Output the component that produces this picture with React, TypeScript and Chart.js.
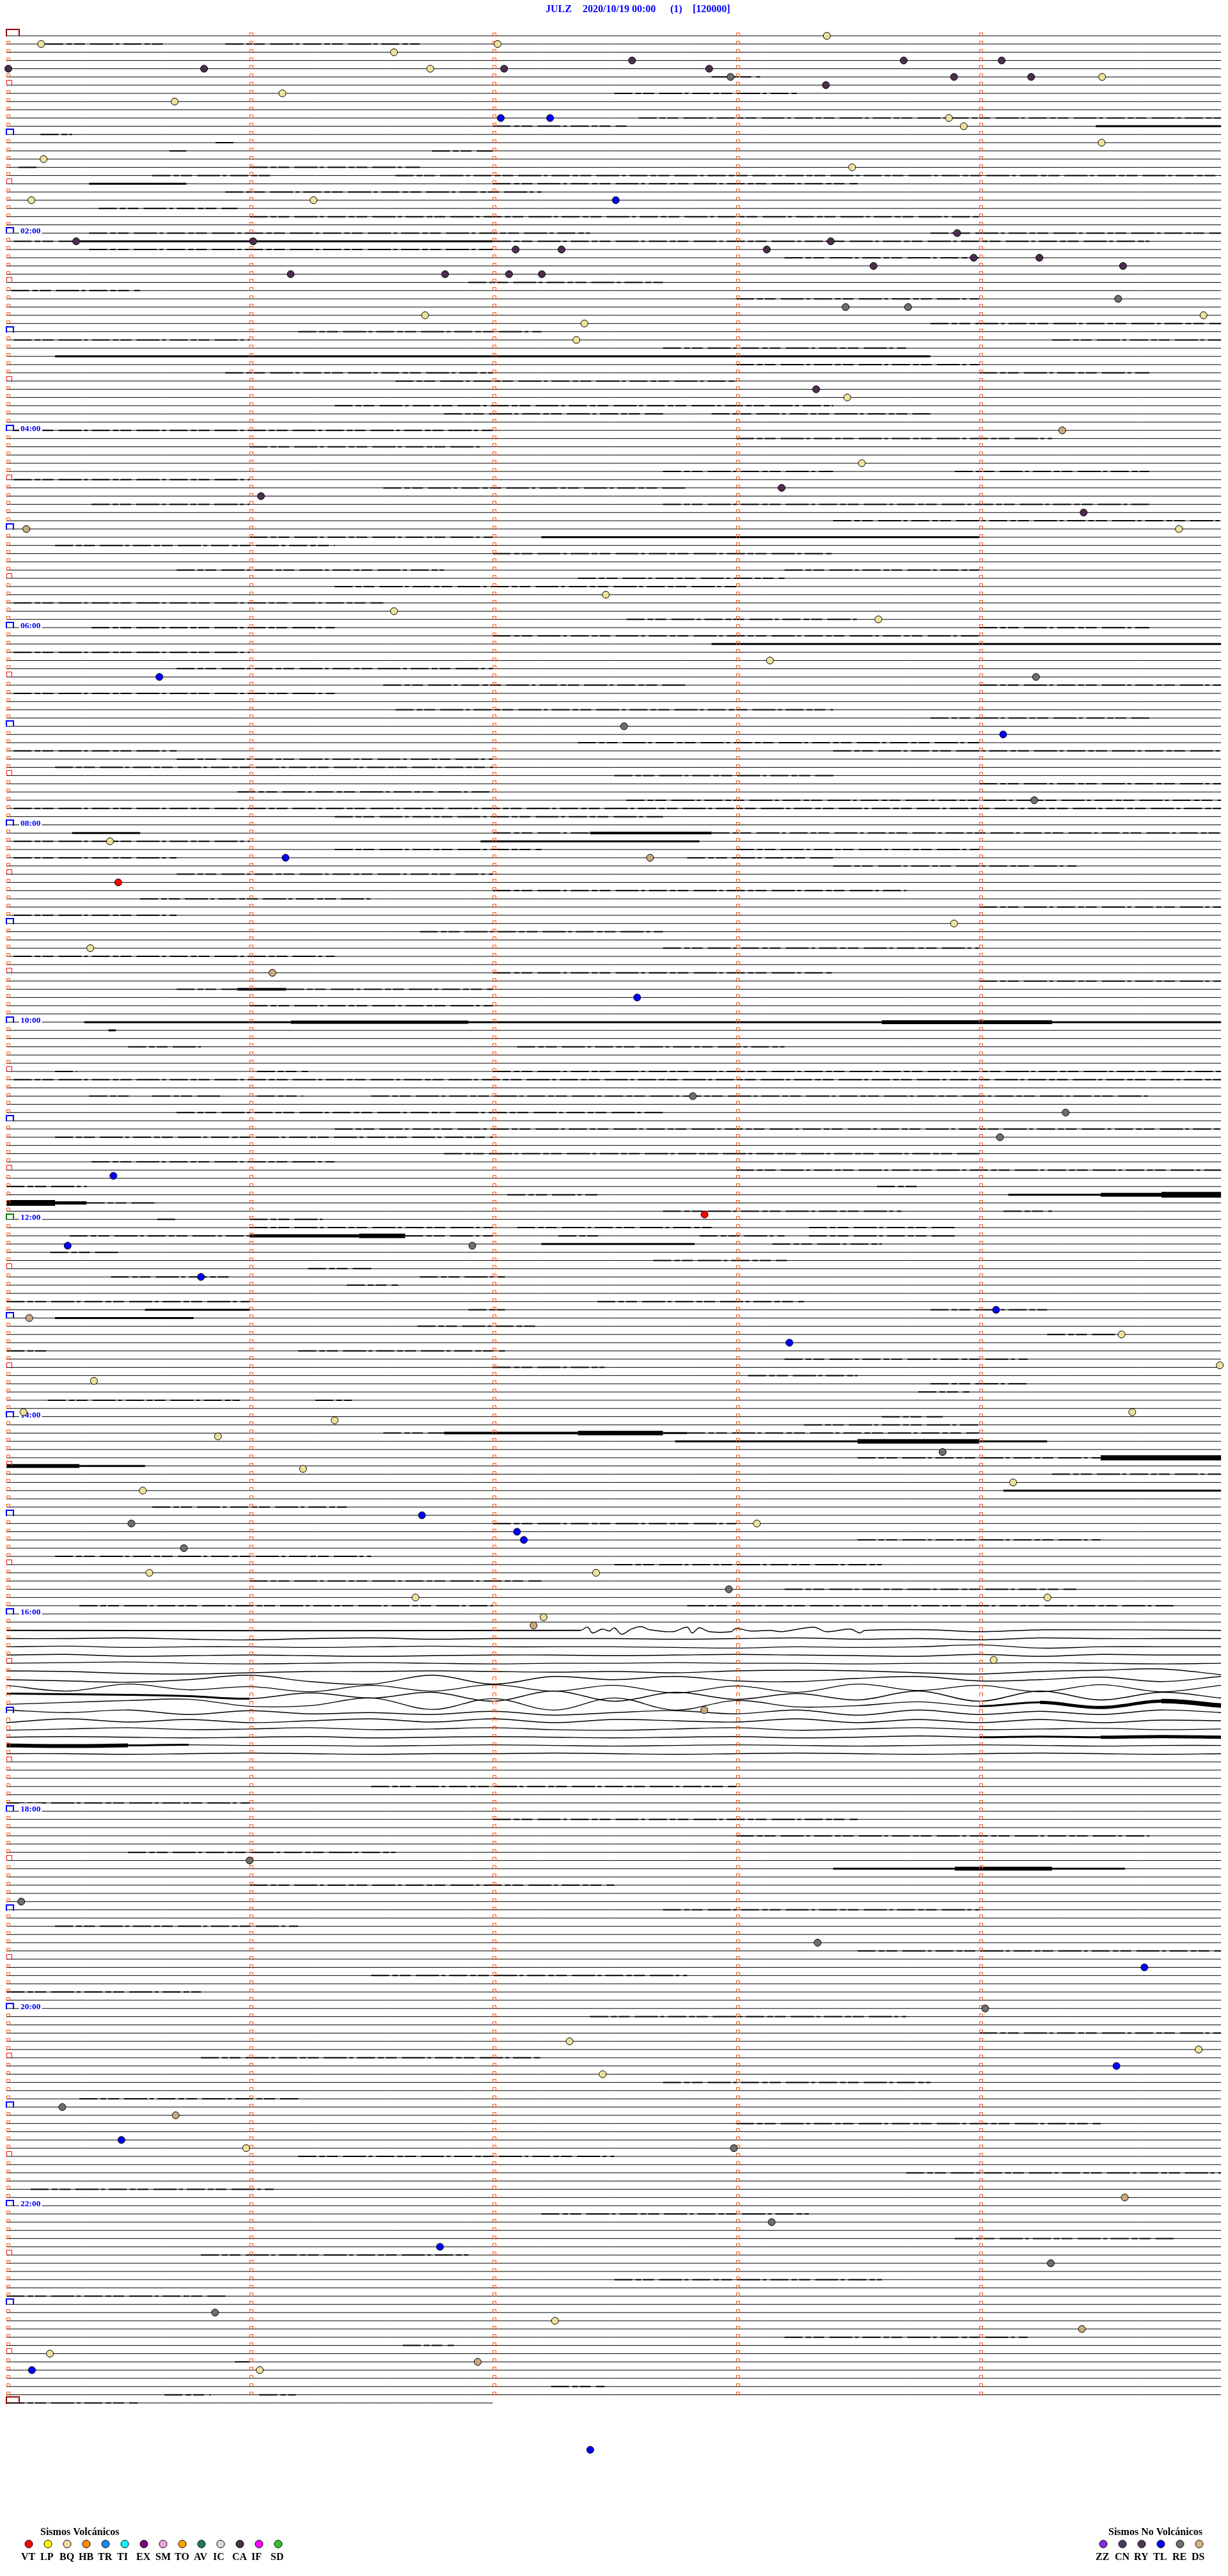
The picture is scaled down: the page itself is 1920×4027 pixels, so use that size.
import React, { useEffect, useRef } from "react";
import { Chart, registerables } from "chart.js";
Chart.register(...registerables);

// ---------- data ----------
const TITLE_PARTS: [string, number][] = [
  ["JULZ", 853],
  ["2020/10/19 00:00", 911],
  ["(1)", 1048],
  ["[120000]", 1083],
];
const ROW_COUNT = 289; // 5-minute rows, 00:00 .. 24:00
const FULL_ROW_END = 4.995;
const LAST_ROW_END = 2.0;
const MINUTE_TICKS = [1, 2, 3, 4];
const HOUR_LABELS = ["02:00", "04:00", "06:00", "08:00", "10:00", "12:00", "14:00", "16:00", "18:00", "20:00", "22:00"];

// noise bands: [row, fromMinute, toMinute, thicknessPx]
const NOISE: [number, number, number, number][] = [
  [1, 0.16, 0.65, 2], [1, 0.9, 1.7, 2], [5, 2.9, 3.1, 2], [7, 2.5, 3.25, 2], [10, 2.6, 5, 2],
  [11, 2.0, 2.55, 2], [11, 4.48, 5, 3], [12, 0.14, 0.27, 2], [13, 0.86, 0.94, 2], [14, 0.67, 0.74, 2],
  [14, 1.75, 2.0, 2], [16, 0.05, 0.13, 2], [16, 1.0, 1.7, 2], [17, 0.6, 1.1, 2], [17, 1.6, 5, 2],
  [18, 0.34, 0.74, 3], [18, 2.0, 3.5, 2], [19, 0.9, 2.2, 2], [21, 0.38, 0.95, 2], [22, 1.0, 4.0, 2],
  [24, 0.34, 2.4, 2], [24, 3.8, 5, 2], [25, 0.03, 0.28, 2], [25, 0.3, 2.0, 3], [25, 2.0, 4.7, 2],
  [26, 0.34, 2.0, 2], [27, 3.2, 4.0, 2], [30, 1.9, 2.7, 2], [31, 0.02, 0.55, 2], [32, 3.0, 4.0, 2],
  [35, 3.8, 5, 2], [36, 1.2, 2.2, 2], [37, 0.03, 1.0, 2], [37, 4.3, 5, 2], [38, 2.7, 3.7, 2],
  [39, 0.2, 3.8, 3], [40, 3.0, 4.0, 2], [41, 0.9, 2.0, 2], [41, 4.0, 4.7, 2], [42, 1.6, 3.0, 2],
  [45, 1.35, 3.4, 2], [46, 1.8, 2.7, 2], [46, 2.9, 3.8, 2], [48, 0.03, 2.0, 2], [49, 3.0, 4.3, 2],
  [50, 1.0, 1.95, 2], [53, 2.7, 3.4, 2], [53, 3.9, 4.7, 2], [54, 0.03, 1.0, 2], [55, 1.55, 2.8, 2],
  [57, 0.35, 1.0, 2], [57, 2.7, 4.7, 2], [59, 3.4, 5, 2], [61, 1.0, 2.0, 2], [61, 2.2, 4.0, 3],
  [62, 0.2, 1.35, 2], [63, 2.0, 3.4, 2], [65, 0.7, 1.8, 2], [65, 3.2, 4.0, 2], [66, 2.35, 3.2, 2],
  [67, 1.35, 3.0, 2], [69, 0.03, 1.55, 2], [71, 2.55, 3.5, 2], [72, 0.35, 1.35, 2], [72, 4.0, 4.7, 2],
  [73, 2.0, 4.0, 2], [74, 2.9, 5, 3], [75, 0.03, 1.0, 2], [77, 0.7, 2.0, 2], [79, 1.55, 2.8, 2],
  [79, 4.0, 5, 2], [80, 0.03, 1.35, 2], [82, 1.6, 3.4, 2], [83, 3.8, 4.7, 2], [86, 2.35, 4.0, 2],
  [87, 0.03, 0.7, 2], [87, 3.4, 5, 2], [88, 0.7, 2.0, 2], [89, 0.2, 2.0, 2], [90, 2.5, 3.4, 2],
  [91, 4.0, 5, 2], [92, 0.95, 2.0, 2], [93, 2.55, 5, 2], [94, 0.03, 5, 2], [95, 1.35, 2.7, 2],
  [97, 0.27, 0.55, 3], [97, 2.0, 2.4, 2], [97, 2.4, 2.9, 4], [97, 2.9, 5, 2], [98, 0.03, 1.0, 2],
  [98, 1.95, 2.85, 3], [99, 1.35, 2.2, 2], [99, 3.0, 4.0, 2], [100, 0.03, 0.7, 2], [100, 2.8, 3.4, 2],
  [101, 3.4, 4.4, 2], [102, 0.7, 2.0, 2], [104, 2.0, 3.7, 2], [105, 0.55, 1.5, 2], [106, 4.0, 5, 2],
  [107, 0.03, 0.7, 2], [109, 1.7, 2.7, 2], [111, 2.7, 4.0, 2], [112, 0.03, 1.35, 2], [114, 2.0, 3.4, 2],
  [115, 4.0, 5, 2], [116, 0.7, 0.95, 2], [116, 0.95, 1.15, 4], [116, 1.15, 2.0, 2], [118, 1.0, 2.0, 2],
  [120, 0.32, 1.17, 3], [120, 1.17, 1.9, 5], [120, 1.9, 3.6, 3], [120, 3.6, 4.3, 6], [120, 4.3, 5, 3],
  [121, 0.42, 0.45, 3], [123, 0.5, 0.8, 2], [123, 2.1, 3.2, 2], [126, 0.2, 0.29, 2], [126, 1.03, 1.24, 2],
  [126, 2.0, 5, 2], [127, 0.03, 5, 2], [129, 0.34, 0.51, 2], [129, 0.6, 0.89, 2], [129, 1.03, 1.22, 2],
  [129, 1.5, 4.7, 2], [131, 0.7, 2.7, 2], [133, 1.35, 5, 2], [134, 0.2, 2.0, 2], [136, 1.8, 4.0, 2],
  [137, 0.35, 1.35, 2], [138, 3.0, 5, 2], [140, 0.0, 0.33, 2], [140, 3.58, 3.76, 2], [141, 2.06, 2.43, 2],
  [141, 4.12, 4.5, 3], [141, 4.5, 4.75, 6], [141, 4.75, 5, 9], [142, 0.0, 0.2, 9], [142, 0.2, 0.33, 5],
  [142, 0.33, 0.62, 2], [143, 2.7, 3.68, 2], [143, 4.1, 4.3, 2], [144, 0.62, 0.7, 2], [144, 1.0, 1.3, 2],
  [145, 1.0, 2.0, 2], [145, 2.1, 2.9, 2], [145, 3.3, 3.9, 2], [146, 0.26, 1.0, 2], [146, 1.0, 1.45, 5],
  [146, 1.45, 1.64, 7], [146, 1.64, 2.0, 2], [146, 2.27, 2.45, 2], [146, 2.85, 3.2, 2], [146, 3.3, 3.9, 2],
  [147, 2.2, 2.83, 3], [147, 3.15, 3.6, 2], [148, 0.18, 0.46, 2], [149, 2.66, 3.21, 2], [150, 1.24, 1.5, 2],
  [151, 0.43, 0.92, 2], [151, 1.7, 2.05, 2], [152, 1.4, 1.61, 2], [154, 0.0, 1.0, 2], [154, 2.43, 3.28, 2],
  [155, 0.57, 1.0, 3], [155, 1.9, 2.05, 2], [155, 3.8, 4.28, 2], [156, 0.2, 0.77, 3], [157, 1.69, 2.18, 2],
  [158, 4.28, 4.57, 2], [160, 0.0, 0.17, 2], [160, 1.2, 2.05, 2], [161, 3.2, 4.2, 2], [162, 2.0, 2.46, 2],
  [163, 3.05, 3.5, 2], [164, 3.8, 4.2, 2], [165, 3.75, 3.96, 2], [166, 0.17, 0.96, 2], [166, 1.27, 1.42, 2],
  [168, 3.6, 3.85, 2], [169, 3.28, 4.0, 2], [170, 1.55, 1.8, 2], [170, 1.8, 2.35, 4], [170, 2.35, 2.7, 7],
  [170, 2.7, 2.8, 3], [170, 2.8, 4.0, 2], [171, 2.75, 3.5, 3], [171, 3.5, 4.0, 7], [171, 4.0, 4.28, 3],
  [173, 3.5, 4.5, 2], [173, 4.5, 5, 8], [174, 0.0, 0.3, 6], [174, 0.3, 0.57, 3], [175, 4.3, 5, 2],
  [177, 4.1, 5, 3], [179, 0.6, 1.4, 2], [181, 2.0, 3.0, 2], [183, 3.5, 4.5, 2], [185, 0.2, 1.5, 2],
  [186, 2.5, 3.6, 2], [188, 1.0, 2.2, 2], [189, 3.2, 4.4, 2], [191, 0.3, 2.0, 2], [191, 2.8, 4.8, 2],
  [194, 0.0, 2.3, 2], [202, 0.0, 1.0, 3], [203, 4.0, 4.35, 3], [203, 4.35, 4.8, 5], [203, 4.8, 5, 7],
  [207, 4.1, 4.6, 3], [207, 4.6, 5, 5], [208, 0.0, 0.1, 10], [208, 0.1, 0.4, 6], [208, 0.4, 0.8, 3],
  [213, 1.5, 3.0, 2], [215, 0.0, 1.0, 2], [217, 2.0, 3.5, 2], [219, 3.0, 4.7, 2], [221, 0.5, 1.6, 2],
  [223, 3.4, 3.9, 3], [223, 3.9, 4.3, 6], [223, 4.3, 4.6, 3], [225, 1.0, 2.5, 2], [228, 2.7, 4.0, 2],
  [230, 0.2, 1.2, 2], [233, 3.5, 5, 2], [236, 1.5, 2.8, 2], [238, 0.0, 0.8, 2], [241, 2.4, 3.7, 2],
  [243, 4.0, 5, 2], [246, 0.8, 2.2, 2], [249, 2.7, 3.8, 2], [251, 0.3, 1.2, 2], [254, 3.0, 4.5, 2],
  [258, 1.2, 2.5, 2], [260, 3.7, 5, 2], [262, 0.1, 1.1, 2], [265, 2.2, 3.3, 2], [268, 3.9, 4.8, 2],
  [270, 0.8, 1.9, 2], [273, 2.5, 3.6, 2], [275, 0.0, 0.9, 2], [280, 3.2, 4.2, 2], [281, 1.63, 1.84, 2],
  [283, 0.94, 1.0, 2], [286, 2.24, 2.46, 2], [287, 0.65, 0.84, 2], [287, 1.04, 1.19, 2], [288, 0.0, 0.54, 2],
];

// long-period waves after 16:00 (offsets in px, + = down), sampled every 0.25 min
const WAVE_X = [0, 0.25, 0.5, 0.75, 1, 1.25, 1.5, 1.75, 2, 2.25, 2.5, 2.75, 3, 3.25, 3.5, 3.75, 4, 4.25, 4.5, 4.75, 5];
const WAVE_ROWS = [195, 196, 197, 198, 199, 200, 201, 202, 203, 204, 205, 206, 207, 208, 209];
const WAVE_DY: number[][] = [
  [0, 0, -1, 1, 2, 0, -1, 1, 0, 0, 0, 1, 0, -1, 1, 0, 2, -1, 0, 0, 0],
  [0, -1, 1, 0, 0, 1, 0, -1, 0, 0, 0, 1, 2, 0, 1, 0, -3, 2, 0, 0, 0],
  [0, -1, 2, 1, 0, 1, 2, 1, 0, 0, 1, 0, -1, 0, 1, 2, -1, 2, -1, 0, 0],
  [0, -1, -2, 0, 1, 0, -1, 0, 1, 0, 0, -1, 0, 0, 1, 0, 0, -1, 0, 1, 0],
  [-1, 0, 3, 4, 2, 0, 0, -1, 0, 1, 0, 2, -1, -2, -1, 2, 4, 0, -2, -4, 5],
  [0, 2, 4, 0, -7, 3, 7, -7, 7, -5, 0, -5, 2, 3, -2, -5, 2, 0, -4, 3, -5],
  [-4, 5, -6, 3, -2, 6, -4, 5, -5, 5, -4, 8, -3, 7, -6, 4, -4, 6, -5, 6, -4],
  [-4, -3, -2, 0, 4, -5, 3, -6, 8, -8, 8, -6, 5, -4, 6, -8, 8, -8, 6, -6, 3],
  [0, -3, -6, -8, 3, 2, -10, 8, -9, 9, -10, 9, -6, 4, 2, -4, 3, -3, 5, -5, 2],
  [-4, 0, -4, 3, -3, 2, 0, 3, -2, 4, 0, -3, 2, -4, 4, -4, 3, -2, 3, -4, 0],
  [3, -3, 2, -2, 3, 0, -3, 2, -3, 3, -2, 0, 2, -3, 3, -2, 3, -2, 3, -1, 0],
  [2, 0, -2, 1, 0, -2, 1, 0, -2, 1, 2, 0, -2, 2, 0, -2, 1, 0, -1, 1, 0],
  [0, -1, 0, 1, 0, -1, 1, 0, -1, 0, 1, 0, -1, 1, 0, -2, 0, -1, 0, -1, 0],
  [0, 1, 0, -1, 0, 0, 1, 0, -1, 0, 1, 0, -1, 0, 1, 0, -1, 0, 1, 0, 0],
  [0, 0, 1, 0, -1, 0, 1, 0, 0, -1, 0, 1, 0, -1, 0, 1, 0, -1, 0, 1, 0],
];
// zig-zag burst on row 194 [minute, offsetPx]
const ROW194: [number, number][] = [
  [0, 0], [2.36, 0], [2.39, -5], [2.41, 4], [2.45, -2], [2.48, 1], [2.5, -4], [2.53, 6], [2.57, -2], [2.61, -6],
  [2.645, -1], [2.74, 2], [2.8, -5], [2.82, 4], [2.85, -4], [2.89, 2], [2.98, 2], [3.0, -3], [3.06, 1],
  [3.14, 0], [3.19, 2], [3.32, -5], [3.37, 2], [3.47, -2], [3.51, 4], [3.53, 0], [3.79, -1], [4.0, 2],
  [4.27, -1], [4.995, 0],
];

// events: [minute, row]
const EV_BQ: [number, number][] = [
  [0.143, 1], [1.594, 2], [2.02, 1], [0.692, 8], [1.743, 4], [1.135, 7], [0.153, 15], [0.103, 20], [1.263, 20],
  [3.374, 0], [4.506, 5], [3.876, 10], [3.937, 11], [4.504, 13], [3.478, 16], [4.923, 34], [1.722, 34],
  [2.377, 35], [2.344, 37], [3.458, 44], [3.518, 52], [4.822, 60], [2.465, 68], [1.594, 70], [3.586, 71],
  [3.14, 76], [0.426, 98], [0.345, 111], [3.897, 108], [4.586, 158], [4.99, 161.75], [0.36, 163.65],
  [0.07, 167.45], [4.63, 167.45], [1.35, 168.45], [0.87, 170.4], [1.22, 174.35], [4.14, 176], [0.561, 177],
  [3.086, 181], [0.588, 187], [2.425, 187], [1.682, 190], [4.281, 190], [2.209, 192.4], [4.06, 197.6],
  [2.316, 244], [4.903, 245], [2.452, 248], [0.986, 257], [2.256, 278], [0.179, 282], [1.042, 284],
];
const EV_CA: [number, number][] = [
  [0.008, 4], [0.813, 4], [2.047, 4], [2.573, 3], [2.89, 4], [3.37, 6], [3.69, 3], [3.897, 5], [4.093, 3],
  [4.214, 5], [0.287, 25], [1.015, 25], [3.91, 24], [3.39, 25], [3.127, 26], [2.094, 26], [2.283, 26],
  [3.978, 27], [4.248, 27], [4.592, 28], [3.566, 28], [1.169, 29], [1.804, 29], [2.067, 29], [2.202, 29],
  [3.33, 43], [3.188, 55], [1.047, 56], [4.43, 58],
];
const EV_RE: [number, number][] = [
  [2.978, 5], [4.572, 32], [3.451, 33], [3.708, 33], [4.234, 78], [2.54, 84], [4.227, 93], [2.823, 129],
  [4.356, 131], [4.086, 134], [1.916, 147.2], [3.85, 172.3], [0.73, 184], [0.514, 181], [2.971, 189],
  [1.0, 222], [0.061, 227], [3.336, 232], [4.025, 240], [0.23, 252], [2.992, 257], [3.147, 266],
  [4.295, 271], [0.858, 277],
];
const EV_TL: [number, number][] = [
  [2.033, 10], [2.236, 10], [2.506, 20], [0.629, 78], [4.099, 85], [1.148, 100], [2.594, 117], [0.44, 138.7],
  [0.252, 147.2], [0.8, 151], [4.07, 155], [3.22, 159], [1.709, 180], [2.1, 182], [2.128, 183], [4.68, 235],
  [4.565, 247], [0.473, 256], [1.783, 269], [0.105, 284], [2.401, 293.7],
];
const EV_VT: [number, number][] = [[0.46, 103], [2.871, 143.4]];
const EV_DS: [number, number][] = [
  [4.342, 48], [0.082, 60], [2.647, 100], [1.094, 114], [0.094, 156], [2.168, 193.4], [2.87, 203.7],
  [0.696, 253], [4.599, 263], [4.423, 279], [1.938, 283],
];

const VOLC_LABELS = ["VT", "LP", "BQ", "HB", "TR", "TI", "EX", "SM", "TO", "AV", "IC", "CA", "IF", "SD"];
const VOLC_COLORS = ["#ff0000", "#ffff00", "#eee29a", "#ff8a00", "#1e88f0", "#00ffff", "#800080", "#e8a8e0", "#ffa000", "#1e7a5a", "#d8d8d8", "#4d2d4d", "#ff00ff", "#30c030"];
const NOVOLC_LABELS = ["ZZ", "CN", "RY", "TL", "RE", "DS"];
const NOVOLC_COLORS = ["#8030d8", "#4a3a58", "#553355", "#0000ff", "#6e706e", "#d2b48c"];

// ---------- geometry ----------
const W = 1920;
const H = 4027;
const ROW_PX = 12.849;
const Y_MIN = -3;
const Y_MAX = 300;
const SERIF = '"Liberation Serif", "Times New Roman", serif';

type P = { x: number; y: number; w: number };

function buildRowPoints() {
  const pts: P[] = [];
  for (let r = 0; r < ROW_COUNT; r++) {
    const end = r === ROW_COUNT - 1 ? LAST_ROW_END : FULL_ROW_END;
    const wi = WAVE_ROWS.indexOf(r);
    const wavy = r === 194 || wi >= 0;
    const noise = wavy ? NOISE.filter((n) => n[0] === r) : [];
    let base: [number, number][];
    if (r === 194) base = ROW194;
    else if (wi >= 0) base = WAVE_X.map((x, i) => [Math.min(x, end), WAVE_DY[wi][i]] as [number, number]);
    else base = [[0, 0], [end, 0]];
    for (let i = 0; i < base.length; i++) {
      const [x, dy] = base[i];
      let w = wavy ? 1.4 : 1;
      if (i < base.length - 1) {
        const mid = (x + base[i + 1][0]) / 2;
        for (const n of noise) if (mid >= n[1] && mid <= n[2]) w = Math.max(w, n[3]);
      }
      pts.push({ x, y: r + dy / ROW_PX, w });
    }
    pts.push({ x: NaN, y: NaN, w: 1 });
  }
  return pts;
}

function buildNoisePoints() {
  const pts: P[] = [];
  for (const [r, a, b, w] of NOISE) {
    if (r === 194 || WAVE_ROWS.indexOf(r) >= 0) continue;
    const end = r === ROW_COUNT - 1 ? LAST_ROW_END : FULL_ROW_END;
    pts.push({ x: Math.max(0, a), y: r, w });
    pts.push({ x: Math.min(end, b), y: r, w });
    pts.push({ x: NaN, y: NaN, w: 1 });
  }
  return pts;
}

const markerPlugin = {
  id: "heliMarkers",
  afterDatasetDraw(chart: any, args: any) {
    if (args.index !== 1) return;
    const ctx: CanvasRenderingContext2D = chart.ctx;
    const xs = chart.scales.x;
    const ys = chart.scales.y;
    ctx.save();
    const bracket = (x0: number, yb: number, w: number, h: number, lw: number, color: string) => {
      ctx.strokeStyle = color;
      ctx.lineWidth = lw;
      const o = lw % 2 === 1 ? 0.5 : 0;
      ctx.beginPath();
      ctx.moveTo(x0 + o, yb + 1);
      ctx.lineTo(x0 + o, yb - h + o);
      ctx.lineTo(x0 + w + o, yb - h + o);
      ctx.lineTo(x0 + w + o, yb + 1);
      ctx.stroke();
    };
    for (let r = 0; r < ROW_COUNT; r++) {
      const yb = Math.round(ys.getPixelForValue(r));
      const last = r === ROW_COUNT - 1;
      if (!last) {
        for (const m of MINUTE_TICKS) {
          bracket(Math.round(xs.getPixelForValue(m)), yb, 5, 5, 1, "#ff4f00");
        }
      }
      const x0 = Math.round(xs.getPixelForValue(0));
      if (r === 0 || last) bracket(x0, yb, 20, 10, 2, "#9a0000");
      else if (r % 12 === 0) bracket(x0, yb, 11, 8, 2, r === 144 ? "#008000" : "#0000ff");
      else if (r % 6 === 0) bracket(x0, yb, 8, 8, 1, "#ff0000");
      else bracket(x0, yb, 5, 5, 1, "#ff4f00");
      if (r % 24 === 0 && r > 0 && r < 288) {
        const label = HOUR_LABELS[r / 24 - 1];
        ctx.font = `bold 13.5px ${SERIF}`;
        const tw = ctx.measureText(label).width;
        ctx.fillStyle = "#ffffff";
        ctx.fillRect(x0 + 20, yb - 12, tw + 4, 14);
        ctx.fillStyle = "#0000ff";
        ctx.textBaseline = "alphabetic";
        ctx.textAlign = "left";
        ctx.fillText(label, x0 + 22, yb + 0.5);
      }
    }
    ctx.restore();
  },
  afterDraw(chart: any) {
    const ctx: CanvasRenderingContext2D = chart.ctx;
    ctx.save();
    ctx.textBaseline = "alphabetic";
    ctx.textAlign = "left";
    ctx.font = `bold 16px ${SERIF}`;
    ctx.fillStyle = "#0000ff";
    for (const [t, x] of TITLE_PARTS) ctx.fillText(t, x, 19);
    ctx.fillStyle = "#000000";
    ctx.fillText("Sismos Volcánicos", 63, 3963);
    ctx.fillText("Sismos No Volcánicos", 1733, 3963);
    const drawGroup = (labels: string[], colors: string[], x0: number) => {
      labels.forEach((lab, i) => {
        const cx = x0 + 30 * i;
        ctx.beginPath();
        ctx.arc(cx, 3977, 6, 0, Math.PI * 2);
        ctx.fillStyle = colors[i];
        ctx.fill();
        ctx.lineWidth = 1;
        ctx.strokeStyle = "#000000";
        ctx.stroke();
        ctx.fillStyle = "#000000";
        ctx.fillText(lab, cx - 12, 4002);
      });
    };
    drawGroup(VOLC_LABELS, VOLC_COLORS, 45);
    drawGroup(NOVOLC_LABELS, NOVOLC_COLORS, 1725);
    ctx.restore();
  },
};

export default function App() {
  const ref = useRef<HTMLCanvasElement | null>(null);
  useEffect(() => {
    document.body.style.margin = "0";
    const canvas = ref.current;
    if (!canvas) return;
    const rowData = buildRowPoints();
    const noiseData = buildNoisePoints();
    const evSet = (data: [number, number][], color: string) => ({
      type: "line" as const,
      data: data.map(([x, y]) => ({ x, y })),
      showLine: false,
      pointRadius: 5.5,
      pointHoverRadius: 5.5,
      pointBackgroundColor: color,
      pointBorderColor: "#000000",
      pointBorderWidth: 1,
      clip: false as any,
      order: 0,
    });
    const chart = new Chart(canvas, {
      type: "line",
      data: {
        datasets: [
          {
            data: rowData as any,
            borderColor: "#000000",
            borderWidth: 1,
            pointRadius: 0,
            tension: 0.35,
            spanGaps: false,
            clip: false as any,
            order: 10,
            segment: {
              borderWidth: (c: any) => rowData[c.p0DataIndex]?.w ?? 1,
            },
          } as any,
          {
            data: noiseData as any,
            borderColor: "#000000",
            borderWidth: 2,
            pointRadius: 0,
            spanGaps: false,
            clip: false as any,
            order: 9,
            segment: {
              borderWidth: (c: any) => noiseData[c.p0DataIndex]?.w ?? 2,
              borderDash: (c: any) => ((noiseData[c.p0DataIndex]?.w ?? 2) <= 2 ? [28, 5, 9, 3, 17, 8, 36, 4, 6, 6] : []),
            },
          } as any,
          evSet(EV_BQ, "#eee29a"),
          evSet(EV_CA, "#4d2d4d"),
          evSet(EV_RE, "#6e6e6e"),
          evSet(EV_DS, "#c9a97f"),
          evSet(EV_TL, "#0000ff"),
          evSet(EV_VT, "#ff0000"),
        ],
      },
      options: {
        responsive: false,
        maintainAspectRatio: false,
        devicePixelRatio: 1,
        animation: false,
        events: [],
        layout: { padding: { left: 10, right: 9, top: 56 - 3 * ROW_PX, bottom: H - (56 + Y_MAX * ROW_PX) } },
        plugins: { legend: { display: false }, tooltip: { enabled: false }, title: { display: false } },
        scales: {
          x: { type: "linear", min: 0, max: 5, display: false },
          y: { type: "linear", min: Y_MIN, max: Y_MAX, reverse: true, display: false },
        },
      },
      plugins: [markerPlugin as any],
    });
    return () => chart.destroy();
  }, []);
  return (
    <div style={{ width: W, height: H, position: "relative", background: "#ffffff" }}>
      <canvas ref={ref} width={W} height={H} style={{ display: "block", width: W, height: H }} />
    </div>
  );
}
